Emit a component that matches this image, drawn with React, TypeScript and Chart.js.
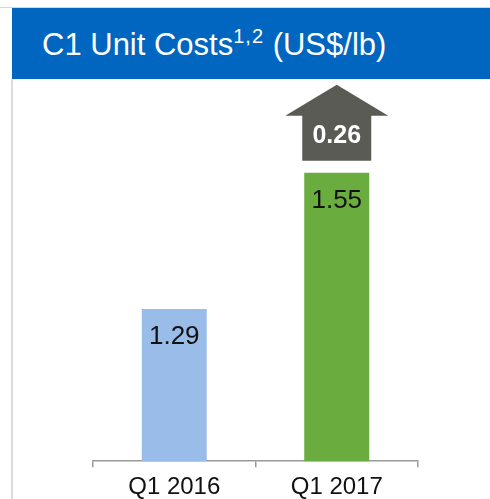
import React, { useEffect, useRef } from "react";
import { Chart, registerables } from "chart.js";

Chart.register(...registerables);

const categories = ["Q1 2016", "Q1 2017"];
const values = [1.29, 1.55];
const barColors = ["#99BDE8", "#6AAC3D"];
const yMin = 1.0;
const yMax = 1.7;

const FONT = '"Liberation Sans", Arial, Helvetica, sans-serif';

const overlayPlugin = {
  id: "overlay",
  afterDatasetsDraw(chart: any) {
    const ctx = chart.ctx;
    const meta = chart.getDatasetMeta(0);
    ctx.save();
    meta.data.forEach((bar: any, i: number) => {
      ctx.font = `26px ${FONT}`;
      ctx.fillStyle = "#111111";
      ctx.textAlign = "center";
      ctx.textBaseline = "middle";
      ctx.fillText(values[i].toFixed(2), bar.x, bar.y + 28);
    });
    const last = meta.data[meta.data.length - 1];
    const delta = values[values.length - 1] - values[0];
    const cx = last.x;
    const stemBottom = last.y - 12;
    const headBase = last.y - 57;
    const tip = last.y - 88;
    const stemHalf = 34.5;
    const headHalf = 51.5;
    ctx.fillStyle = "#5B5B55";
    ctx.beginPath();
    ctx.moveTo(cx - stemHalf, stemBottom);
    ctx.lineTo(cx - stemHalf, headBase);
    ctx.lineTo(cx - headHalf, headBase);
    ctx.lineTo(cx, tip);
    ctx.lineTo(cx + headHalf, headBase);
    ctx.lineTo(cx + stemHalf, headBase);
    ctx.lineTo(cx + stemHalf, stemBottom);
    ctx.closePath();
    ctx.fill();
    ctx.font = `bold 25px ${FONT}`;
    ctx.fillStyle = "#FFFFFF";
    ctx.textAlign = "center";
    ctx.textBaseline = "middle";
    ctx.fillText(delta.toFixed(2), cx, last.y - 37);
    ctx.restore();
  },
};

export default function App() {
  const canvasRef = useRef<HTMLCanvasElement | null>(null);

  useEffect(() => {
    if (!canvasRef.current) return;
    const chart = new Chart(canvasRef.current, {
      type: "bar",
      data: {
        labels: categories,
        datasets: [
          {
            data: values,
            backgroundColor: barColors,
            borderWidth: 0,
            barPercentage: 0.4,
            categoryPercentage: 1,
          },
        ],
      },
      options: {
        animation: false,
        responsive: false,
        maintainAspectRatio: false,
        layout: { padding: { left: 81, right: 72, top: 14, bottom: 0 } },
        plugins: {
          legend: { display: false },
          tooltip: { enabled: false },
          title: { display: false },
        },
        scales: {
          x: {
            offset: true,
            grid: {
              display: true,
              drawOnChartArea: false,
              drawTicks: true,
              tickLength: 6,
              color: "#999999",
              lineWidth: 1.5,
              offset: true,
            },
            border: { display: true, color: "#999999", width: 1.5 },
            ticks: {
              color: "#111111",
              font: { family: FONT, size: 24 },
              padding: 6,
              maxRotation: 0,
            },
          },
          y: {
            display: false,
            min: yMin,
            max: yMax,
          },
        },
      },
      plugins: [overlayPlugin],
    });
    return () => chart.destroy();
  }, []);

  return (
    <div
      style={{
        position: "absolute",
        left: 0,
        top: 0,
        width: 490,
        height: 499,
        overflow: "hidden",
        background: "#ffffff",
        fontFamily: FONT,
      }}
    >
      <div style={{ position: "absolute", left: 0, top: 7, width: 490, height: 1, background: "#d4d4d4" }} />
      <div style={{ position: "absolute", left: 11, top: 79, width: 2, height: 420, background: "#dcdcdc" }} />
      <div
        style={{
          position: "absolute",
          left: 12,
          top: 8,
          width: 478,
          height: 71,
          background: "#0066BF",
        }}
      >
        <div
          style={{
            position: "absolute",
            left: 30,
            top: 19,
            color: "#ffffff",
            fontSize: 31,
            lineHeight: "36px",
            whiteSpace: "nowrap",
          }}
        >
          C1 Unit Costs
          <span style={{ fontSize: 20, position: "relative", top: -12, letterSpacing: 1 }}>1,2</span>
          {" (US$/lb)"}
        </div>
      </div>
      <canvas
        ref={canvasRef}
        width={478}
        height={428}
        style={{ position: "absolute", left: 12, top: 80, width: 478, height: 428 }}
      />
    </div>
  );
}
